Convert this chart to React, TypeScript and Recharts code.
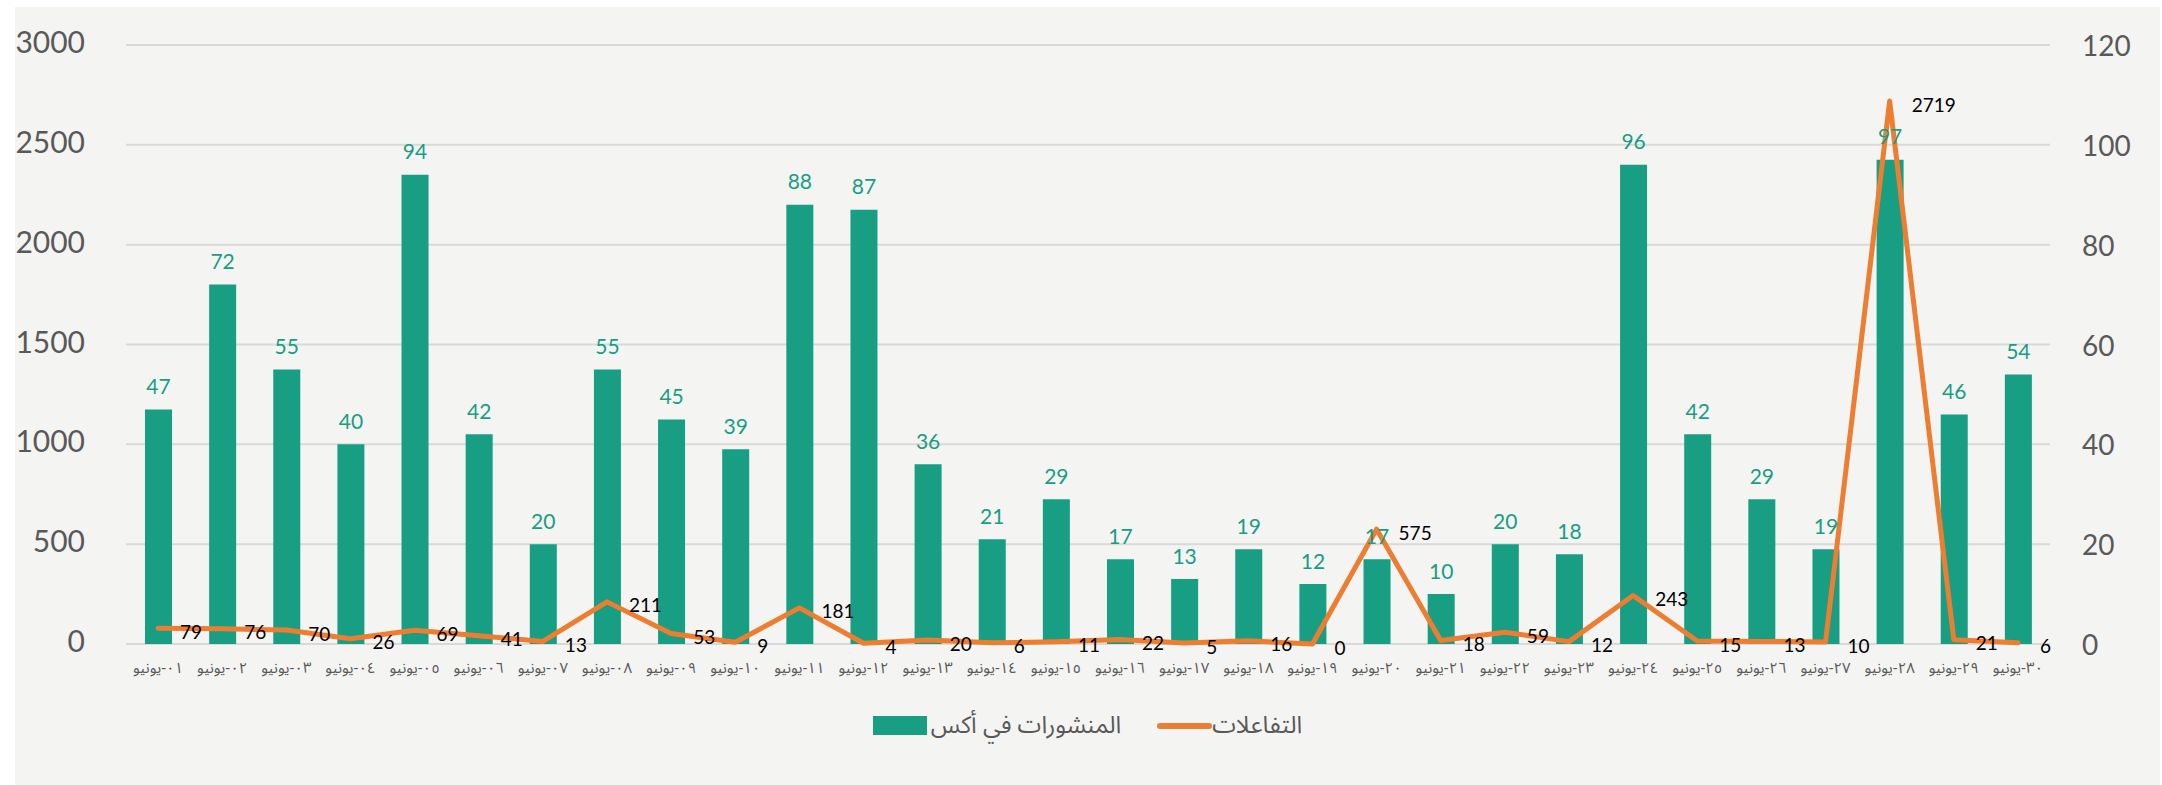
import React from 'react';
import { ComposedChart, Bar, Line, XAxis, YAxis, CartesianGrid, Legend } from 'recharts';

const categories = [
  '٠١-يونيو', '٠٢-يونيو', '٠٣-يونيو', '٠٤-يونيو', '٠٥-يونيو', '٠٦-يونيو', '٠٧-يونيو', '٠٨-يونيو', '٠٩-يونيو', '١٠-يونيو',
  '١١-يونيو', '١٢-يونيو', '١٣-يونيو', '١٤-يونيو', '١٥-يونيو', '١٦-يونيو', '١٧-يونيو', '١٨-يونيو', '١٩-يونيو', '٢٠-يونيو',
  '٢١-يونيو', '٢٢-يونيو', '٢٣-يونيو', '٢٤-يونيو', '٢٥-يونيو', '٢٦-يونيو', '٢٧-يونيو', '٢٨-يونيو', '٢٩-يونيو', '٣٠-يونيو',
];

const posts = [47, 72, 55, 40, 94, 42, 20, 55, 45, 39, 88, 87, 36, 21, 29, 17, 13, 19, 12, 17, 10, 20, 18, 96, 42, 29, 19, 97, 46, 54];
const interactions = [79, 76, 70, 26, 69, 41, 13, 211, 53, 9, 181, 4, 20, 6, 11, 22, 5, 16, 0, 575, 18, 59, 12, 243, 15, 13, 10, 2719, 21, 6];

const leftTicks = [0, 500, 1000, 1500, 2000, 2500, 3000];
const rightTicks = [0, 20, 40, 60, 80, 100, 120];

const postsName = 'المنشورات في أكس';
const interName = 'التفاعلات';

const GREEN = '#179E83';
const ORANGE = '#ED7D31';
const GRAY = '#595959';
const NUM_FONT = 'Lato, "Open Sans", sans-serif';
const AR_FONT = '"Noto Sans Arabic", "Noto Sans", "DejaVu Sans", sans-serif';

const data = categories.map((c, i) => ({ day: c, posts: posts[i], inter: interactions[i] }));

const XTick = (props: any) => {
  const { x, y, payload } = props;
  return (
    <text x={x} y={y + 24} textAnchor="middle" dominantBaseline="central" fontSize={15} fill={GRAY} fontFamily={AR_FONT}>
      {payload.value}
    </text>
  );
};

const LeftTick = (props: any) => {
  const { x, y, payload } = props;
  return (
    <text x={x} y={y - 4} textAnchor="end" dominantBaseline="central" fontSize={30} fill={GRAY} fontFamily={NUM_FONT}>
      {payload.value}
    </text>
  );
};

const RightTick = (props: any) => {
  const { x, y, payload } = props;
  return (
    <text x={x} y={y} textAnchor="start" dominantBaseline="central" fontSize={28} fill={GRAY} fontFamily={NUM_FONT}>
      {payload.value}
    </text>
  );
};

const BarLabel = (props: any) => {
  const { x, y, width, value } = props;
  return (
    <text x={x + width / 2} y={y - 24} textAnchor="middle" dominantBaseline="central" fontSize={21} fill={GREEN} fontFamily={NUM_FONT}>
      {value}
    </text>
  );
};

const LineLabel = (props: any) => {
  const { x, y, value } = props;
  return (
    <text x={x + 22} y={y + 3} textAnchor="start" dominantBaseline="central" fontSize={19} fill="#000" fontFamily={NUM_FONT}>
      {value}
    </text>
  );
};

const LegendContent = () => (
  <div style={{ display: 'flex', justifyContent: 'center', alignItems: 'center', direction: 'ltr', fontFamily: AR_FONT, fontSize: 24, color: GRAY }}>
    <div style={{ display: 'flex', alignItems: 'center' }}>
      <span style={{ display: 'inline-block', width: 54, height: 19, background: GREEN, marginRight: 4 }} />
      <span>{postsName}</span>
    </div>
    <div style={{ display: 'flex', alignItems: 'center', marginLeft: 36 }}>
      <span style={{ display: 'inline-block', width: 55, height: 6, borderRadius: 3, background: ORANGE }} />
      <span>{interName}</span>
    </div>
  </div>
);

export default function App() {
  return (
    <div style={{ position: 'absolute', left: 15, top: 7, width: 2145, height: 778, background: '#F4F4F2' }}>
      <ComposedChart width={2145} height={778} data={data} margin={{ top: 38, right: 0, bottom: 100, left: 0 }}>
        <CartesianGrid vertical={false} stroke="#D9D9D9" strokeWidth={2} yAxisId="left" />
        <XAxis dataKey="day" height={41} tickLine={false} axisLine={false} tickSize={0} tickMargin={0} interval={0} tick={<XTick />} />
        <YAxis yAxisId="left" orientation="left" width={111} domain={[0, 3000]} ticks={leftTicks} tickLine={false} axisLine={false} tickSize={0} tickMargin={41} tick={<LeftTick />} />
        <YAxis yAxisId="right" orientation="right" width={110} domain={[0, 120]} ticks={rightTicks} tickLine={false} axisLine={false} tickSize={0} tickMargin={32} tick={<RightTick />} />
        <Bar yAxisId="right" dataKey="posts" name={postsName} fill={GREEN} barSize={27} isAnimationActive={false} label={<BarLabel />} />
        <Line yAxisId="left" dataKey="inter" name={interName} stroke={ORANGE} strokeWidth={5} strokeLinejoin="round" strokeLinecap="round" dot={false} activeDot={false} isAnimationActive={false} label={<LineLabel />} />
        <Legend layout="horizontal" verticalAlign="middle" align="center" content={<LegendContent />} wrapperStyle={{ position: 'absolute', left: 0, top: 693, width: 2145 }} />
      </ComposedChart>
    </div>
  );
}
